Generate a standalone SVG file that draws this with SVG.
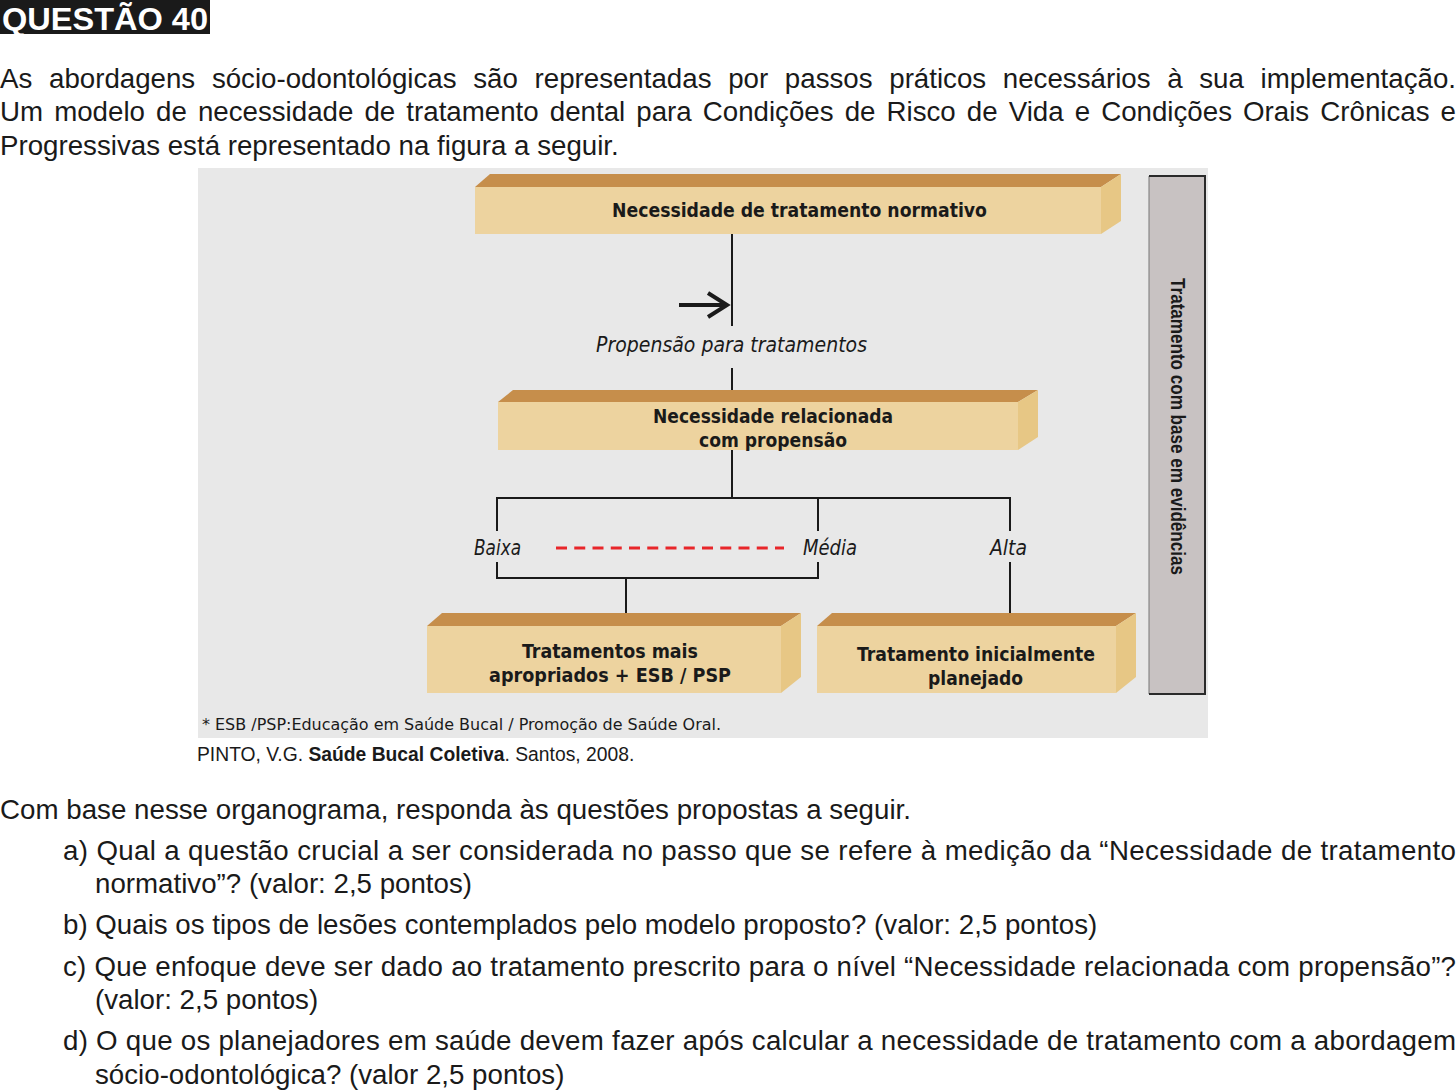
<svg xmlns="http://www.w3.org/2000/svg" width="1456" height="1091" viewBox="0 0 1456 1091">
<style>
.body{font-family:"Liberation Sans",Arial,sans-serif;font-size:27.7px;fill:#1a1a1a}
.dg{font-family:"DejaVu Sans Condensed","DejaVu Sans",sans-serif;font-stretch:condensed;fill:#1a1a1a}
.bx{font-weight:bold;font-size:20px;text-anchor:middle}
.it{font-style:italic;font-size:21px}
.front{fill:#EDD39F}
.top{fill:#C68E4B}
.side{fill:#E7C785}
.conn line,.conn polyline{stroke:#1a1a1a;stroke-width:2;fill:none}
</style>
<rect x="0" y="0" width="1456" height="1091" fill="#ffffff"/>
<g id="title">
<rect x="0" y="0" width="210" height="34" fill="#1a1a1a"/>
<text x="2" y="30" font-family="Liberation Sans,Arial,sans-serif" font-weight="bold" font-size="32" fill="#ffffff" textLength="206" lengthAdjust="spacingAndGlyphs">QUESTÃO 40</text>
</g>
<g id="intro">
<text class="body" x="0" y="88" word-spacing="9" textLength="1456" lengthAdjust="spacing">As abordagens sócio-odontológicas são representadas por passos práticos necessários à sua implementação.</text>
<text class="body" x="0" y="121" word-spacing="3.4" textLength="1456" lengthAdjust="spacing">Um modelo de necessidade de tratamento dental para Condições de Risco de Vida e Condições Orais Crônicas e</text>
<text class="body" x="0" y="155">Progressivas está representado na figura a seguir.</text>
</g>
<g id="figure-bg">
<rect x="198" y="168" width="1010" height="570" fill="#E8E8E8"/>
</g>
<g id="sidebar">
<rect x="1149" y="176" width="56" height="518" fill="#C8C2C2"/>
<line x1="1149" y1="176" x2="1149" y2="694" stroke="#777" stroke-width="1"/>
<polyline points="1149,176 1205,176 1205,694 1149,694" fill="none" stroke="#2a2a2a" stroke-width="2"/>
<text transform="translate(1171,278) rotate(90)" x="0" y="0" font-family="Liberation Sans,Arial,sans-serif" font-weight="bold" font-size="19.5" fill="#1a1a1a" textLength="297" lengthAdjust="spacingAndGlyphs">Tratamento com base em evidências</text>
</g>
<g class="conn" id="connectors">
<line x1="732" y1="234" x2="732" y2="326"/>
<line x1="679" y1="305" x2="726" y2="305" style="stroke-width:4"/>
<polyline points="708,293 727,305 708,317" style="stroke-width:4"/>
<line x1="732" y1="368" x2="732" y2="390"/>
<line x1="732" y1="450" x2="732" y2="498"/>
<polyline points="497,531 497,498 1010,498 1010,531"/>
<line x1="818" y1="498" x2="818" y2="531"/>
<polyline points="497,562 497,578 818,578 818,562"/>
<line x1="626" y1="578" x2="626" y2="613"/>
<line x1="1010" y1="562" x2="1010" y2="613"/>
<line x1="556" y1="548" x2="784" y2="548" style="stroke:#E8262A;stroke-width:3;stroke-dasharray:11,7.25"/>
</g>
<g id="node-normativo">
<polygon class="top" points="475,187 490,174 1121,174 1101,187"/>
<polygon class="side" points="1101,187 1121,174 1121,221 1101,234"/>
<rect class="front" x="475" y="187" width="626" height="47"/>
<text class="dg bx" x="799.5" y="217" textLength="375" lengthAdjust="spacingAndGlyphs">Necessidade de tratamento normativo</text>
</g>
<g id="label-propensao">
<text class="dg it" x="731.5" y="352" text-anchor="middle" textLength="271" lengthAdjust="spacingAndGlyphs">Propensão para tratamentos</text>
</g>
<g id="node-relacionada">
<polygon class="top" points="498,402 513,390 1038,390 1018,402"/>
<polygon class="side" points="1018,402 1038,390 1038,437 1018,450"/>
<rect class="front" x="498" y="402" width="520" height="48"/>
<text class="dg bx" x="773" y="423" textLength="240" lengthAdjust="spacingAndGlyphs">Necessidade relacionada</text>
<text class="dg bx" x="773" y="447" textLength="148" lengthAdjust="spacingAndGlyphs">com propensão</text>
</g>
<g id="levels">
<text class="dg it" x="497.5" y="555" text-anchor="middle" textLength="47" lengthAdjust="spacingAndGlyphs">Baixa</text>
<text class="dg it" x="830" y="555" text-anchor="middle" textLength="54" lengthAdjust="spacingAndGlyphs">Média</text>
<text class="dg it" x="1008.5" y="555" text-anchor="middle" textLength="37" lengthAdjust="spacingAndGlyphs">Alta</text>
</g>
<g id="node-apropriados">
<polygon class="top" points="427,626 442,613 801,613 781,626"/>
<polygon class="side" points="781,626 801,613 801,677 781,693"/>
<rect class="front" x="427" y="626" width="354" height="67"/>
<text class="dg bx" x="610" y="658" textLength="176" lengthAdjust="spacingAndGlyphs">Tratamentos mais</text>
<text class="dg bx" x="610" y="682" textLength="242" lengthAdjust="spacingAndGlyphs">apropriados + ESB / PSP</text>
</g>
<g id="node-planejado">
<polygon class="top" points="817,626 832,613 1136,613 1116,626"/>
<polygon class="side" points="1116,626 1136,613 1136,677 1116,693"/>
<rect class="front" x="817" y="626" width="299" height="67"/>
<text class="dg bx" x="976" y="661" textLength="238" lengthAdjust="spacingAndGlyphs">Tratamento inicialmente</text>
<text class="dg bx" x="975.5" y="685" textLength="95" lengthAdjust="spacingAndGlyphs">planejado</text>
</g>
<g id="footnote">
<text class="dg" x="202" y="730" font-size="16.5" textLength="519" lengthAdjust="spacingAndGlyphs">* ESB /PSP:Educação em Saúde Bucal / Promoção de Saúde Oral.</text>
</g>
<g id="citation">
<text x="197" y="761" font-family="Liberation Sans,Arial,sans-serif" font-size="19.3" fill="#1a1a1a">PINTO, V.G. <tspan font-weight="bold">Saúde Bucal Coletiva</tspan>. Santos, 2008.</text>
</g>
<g id="questions">
<text class="body" x="0" y="819" textLength="911" lengthAdjust="spacing">Com base nesse organograma, responda às questões propostas a seguir.</text>
<text class="body" x="63" y="860" textLength="1393" lengthAdjust="spacing">a) Qual a questão crucial a ser considerada no passo que se refere à medição da “Necessidade de tratamento</text>
<text class="body" x="95" y="893">normativo”? (valor: 2,5 pontos)</text>
<text class="body" x="63" y="934">b) Quais os tipos de lesões contemplados pelo modelo proposto? (valor: 2,5 pontos)</text>
<text class="body" x="63" y="976" textLength="1393" lengthAdjust="spacing">c) Que enfoque deve ser dado ao tratamento prescrito para o nível “Necessidade relacionada com propensão”?</text>
<text class="body" x="95" y="1009">(valor: 2,5 pontos)</text>
<text class="body" x="63" y="1050" textLength="1393" lengthAdjust="spacing">d) O que os planejadores em saúde devem fazer após calcular a necessidade de tratamento com a abordagem</text>
<text class="body" x="95" y="1084">sócio-odontológica? (valor 2,5 pontos)</text>
</g>
</svg>
